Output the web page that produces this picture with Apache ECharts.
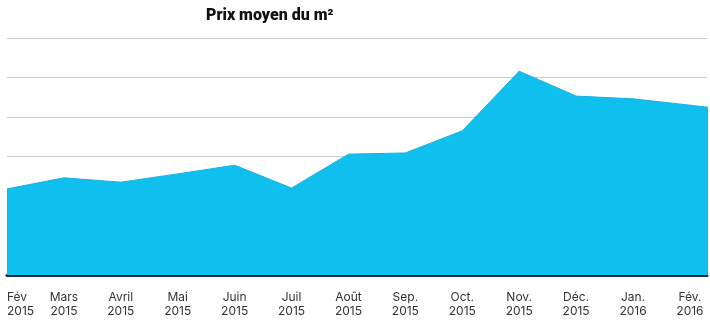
<!DOCTYPE html>
<html>
<head>
<meta charset="utf-8">
<script src="https://cdn.jsdelivr.net/npm/echarts@6/dist/echarts.min.js"></script>
<style>html,body{margin:0;padding:0;background:#fff}#c{width:710px;height:326px}</style>
</head>
<body>
<div id="c"></div>
<script>
var title = 'Prix moyen du m²';
var months = ['Fév', 'Mars', 'Avril', 'Mai', 'Juin', 'Juil', 'Août', 'Sep.', 'Oct.', 'Nov.', 'Déc.', 'Jan.', 'Fév.', 'Mars'];
var years = ['2015', '2015', '2015', '2015', '2015', '2015', '2015', '2015', '2015', '2015', '2015', '2016', '2016', '2016'];
// relative level (gridline units); last value is the cropped continuation at the right edge
var values = [2.18, 2.46, 2.35, 2.56, 2.78, 2.20, 3.06, 3.09, 3.65, 5.16, 4.53, 4.46, 4.30, 4.13];
var visibleCount = 13;

var chart = echarts.init(document.getElementById('c'), null, {renderer: 'canvas'});
var data = values.map(function (v, i) { return [i, v]; });
chart.setOption({
  animation: false,
  title: {
    text: title,
    left: 201, top: 3,
    textStyle: {fontFamily: 'Roboto', fontWeight: 900, fontSize: 16, color: '#111'}
  },
  grid: {left: 7, right: 0, top: 38, bottom: 51},
  xAxis: {
    type: 'value', min: 0, max: 12.3, interval: 1,
    splitLine: {show: false},
    axisTick: {show: false},
    axisLine: {show: true, lineStyle: {color: '#1b2a35', width: 3}},
    axisLabel: {
      margin: 15,
      alignMinLabel: 'left',
      fontFamily: 'Inter', fontSize: 12, color: '#333', lineHeight: 14,
      formatter: function (v) {
        if (Math.abs(v - Math.round(v)) > 1e-6 || v >= visibleCount) return '';
        var i = Math.round(v);
        return months[i] + '\n' + years[i];
      }
    }
  },
  yAxis: {
    type: 'value', min: 0, max: 6, interval: 1,
    axisLabel: {show: false},
    axisLine: {show: false},
    axisTick: {show: false},
    splitLine: {show: true, lineStyle: {color: '#cccccc', width: 1}}
  },
  series: [{
    type: 'line',
    data: data,
    symbol: 'none',
    clip: true,
    lineStyle: {color: '#1ab0e0', width: 1},
    areaStyle: {color: '#0fc0ee', opacity: 1}
  }]
});
</script>
</body>
</html>
